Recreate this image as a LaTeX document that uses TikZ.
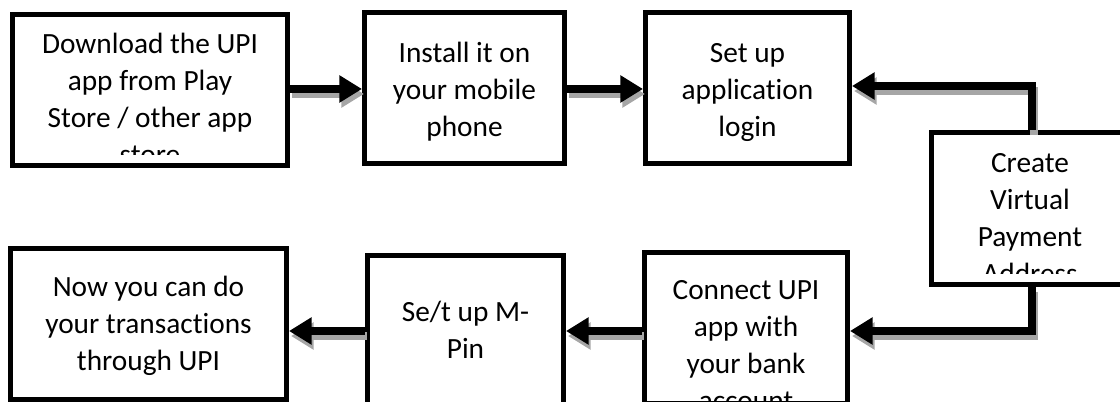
\documentclass[tikz,border=0pt]{standalone}
\usepackage{fontspec}
\setmainfont{Carlito}[Ligatures=CommonOff]
\usetikzlibrary{arrows.meta,fit}

\tikzset{
  stepbox/.style={draw=black, line width=4.1pt, fill=white, inner sep=0pt},
  steptext/.style={align=center, inner sep=0pt, font=\fontsize{22}{27.75}\selectfont},
  flow/.style={line width=5.4pt, -{Triangle[length=17pt,width=19.5pt]}},
  flowshadow/.style={flow, draw=black!35, transform canvas={shift={(2,5)}}}
}

% text of a box, cut off a little above its lower border
\newcommand{\boxtext}[4][13]{%
  \coordinate (#2-base) at (0,#3);
  \begin{scope}
    \clip ([shift={(4,4)}]#2.north west) rectangle ([shift={(-4,-#1)}]#2.south east);
    \path (#2.north |- #2-base) ++(0,-25.4) node[steptext, anchor=north] (#2-text) {\strut #4};
  \end{scope}}

\begin{document}
\begin{tikzpicture}[x=0.75pt, y=-0.75pt]
\useasboundingbox (0,0) rectangle (1120,402);

% boxes
\node[stepbox, fit={(12.75,14.75) (287.25,165.25)}] (download) {};
\node[stepbox, fit={(364.75,12.75) (564.25,163.25)}] (install) {};
\node[stepbox, fit={(645.75,12.75) (849.25,163.25)}] (login) {};
\node[stepbox, fit={(931.75,132.75) (1128.25,284.25)}] (vpa) {};
\node[stepbox, fit={(644.75,252.75) (847.25,403.75)}] (bank) {};
\node[stepbox, fit={(367.75,255.75) (563.25,420.25)}] (mpin) {};
\node[stepbox, fit={(10.75,248.75) (286.25,399.25)}] (txn) {};

\boxtext{download}{53}{Download the UPI\\app from Play\\Store / other app\\store}
\boxtext{install}{62}{Install it on\\your mobile\\phone}
\boxtext{login}{62}{Set up\\application\\login}
\boxtext{vpa}{172}{Create\\Virtual\\Payment\\Address}
\boxtext[0]{bank}{299}{Connect UPI\\app with\\your bank\\account}
\boxtext{mpin}{321}{Se/t up M-\\Pin}
\boxtext{txn}{296}{Now you can do\\your transactions\\through UPI}

% arrows
\coordinate (toprow) at (0,89);
\coordinate (lowrow) at (0,331);
\coordinate (vpaturn) at (1032,86);

\foreach \a/\b in {download/install, install/login}
  \draw[flowshadow] (\a.east |- toprow) -- (\b.west |- toprow);
\foreach \a/\b in {bank/mpin, mpin/txn}
  \draw[flowshadow] (\a.west |- lowrow) -- (\b.east |- lowrow);
\draw[flowshadow] (vpaturn |- vpa.north) |- (login.east |- vpaturn);
\draw[flowshadow] (vpaturn |- vpa.south) |- (bank.east |- lowrow);

\foreach \a/\b in {download/install, install/login}
  \draw[flow] (\a.east |- toprow) -- (\b.west |- toprow);
\foreach \a/\b in {bank/mpin, mpin/txn}
  \draw[flow] (\a.west |- lowrow) -- (\b.east |- lowrow);
\draw[flow] (vpaturn |- vpa.north) |- (login.east |- vpaturn);
\draw[flow] (vpaturn |- vpa.south) |- (bank.east |- lowrow);
\end{tikzpicture}
\end{document}
